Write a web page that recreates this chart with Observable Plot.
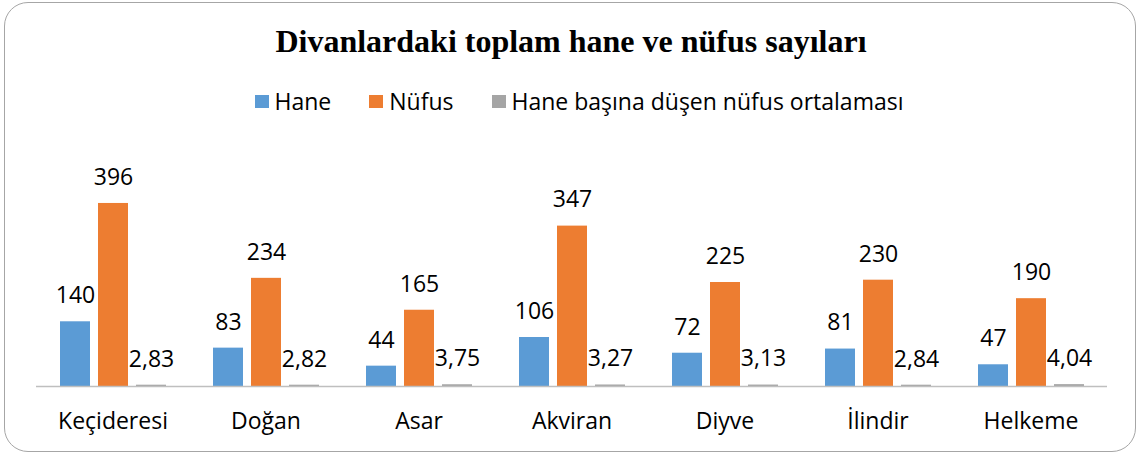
<!DOCTYPE html>
<html>
<head>
<meta charset="utf-8">
<script src="https://cdn.jsdelivr.net/npm/d3@7"></script>
<script src="https://cdn.jsdelivr.net/npm/@observablehq/plot@0.6"></script>
<style>
  html, body { margin: 0; padding: 0; background: #fff; }
  #frame {
    position: absolute; left: 4px; top: 2px; width: 1132px; height: 450px;
    border: 1.5px solid #a6a6a6; border-radius: 24px; box-sizing: border-box;
  }
  #title {
    position: absolute; left: 0; top: 23px; width: 1142px; text-align: center;
    font-family: "Liberation Serif", "Times New Roman", serif; font-weight: bold;
    font-size: 32px; line-height: 36px; color: #000;
  }
  #legend {
    position: absolute; left: 0; top: 86px; width: 1142px; display: flex; justify-content: center;
    font-family: "Open Sans", sans-serif; font-size: 23px; line-height: 30px; color: #000; padding-left: 16px; box-sizing: border-box;
  }
  .item { display: flex; align-items: center; margin: 0 19px; }
  .sw { width: 14px; height: 13px; margin-right: 6px; }
  #chart { position: absolute; left: 0; top: 130px; }
</style>
</head>
<body>
<div id="frame"></div>
<div id="title">Divanlardaki toplam hane ve nüfus sayıları</div>
<div id="legend"></div>
<div id="chart"></div>
<script>
const categories = ["Keçideresi", "Doğan", "Asar", "Akviran", "Diyve", "İlindir", "Helkeme"];
const seriesNames = ["Hane", "Nüfus", "Hane başına düşen nüfus ortalaması"];
const hane = [140, 83, 44, 106, 72, 81, 47];
const nufus = [396, 234, 165, 347, 225, 230, 190];
const ortalama = [2.83, 2.82, 3.75, 3.27, 3.13, 2.84, 4.04];
const colors = ["#5B9BD5", "#ED7D31", "#A5A5A5"];

const seriesValues = [hane, nufus, ortalama];
const data = [];
categories.forEach((c, i) => {
  seriesNames.forEach((s, j) => {
    data.push({city: c, series: s, value: seriesValues[j][i]});
  });
});

const fmt = v => Number.isInteger(v) ? String(v) : v.toFixed(2).replace(".", ",");

// legend
const legend = document.getElementById("legend");
seriesNames.forEach((s, j) => {
  const it = document.createElement("div");
  it.className = "item";
  const sw = document.createElement("div");
  sw.className = "sw";
  sw.style.background = colors[j];
  const t = document.createElement("span");
  t.textContent = s;
  it.appendChild(sw); it.appendChild(t);
  legend.appendChild(it);
});

const chart = Plot.plot({
  width: 1142,
  height: 320,
  marginLeft: 33,
  marginRight: 32,
  marginTop: 48,
  marginBottom: 64,
  style: {fontFamily: "Open Sans, sans-serif", fontSize: "23px", color: "#000", background: "transparent"},
  fx: {domain: categories, padding: 0, label: null, axis: "bottom", tickSize: 0, tickPadding: 26},
  x: {domain: seriesNames, axis: null, paddingInner: 0.22, paddingOuter: 0.6},
  y: {domain: [0, 450], axis: null},
  color: {domain: seriesNames, range: colors},
  marks: [
    Plot.barY(data, {fx: "city", x: "series", y: "value", fill: "series"}),
    Plot.ruleY([0], {stroke: "#bfbfbf", strokeWidth: 1.5}),
    Plot.text(data, {fx: "city", x: "series", y: "value", text: d => fmt(d.value), dy: -26, fontSize: 23, fill: "#000", lineAnchor: "middle"})
  ]
});
document.getElementById("chart").appendChild(chart);
</script>
</body>
</html>
